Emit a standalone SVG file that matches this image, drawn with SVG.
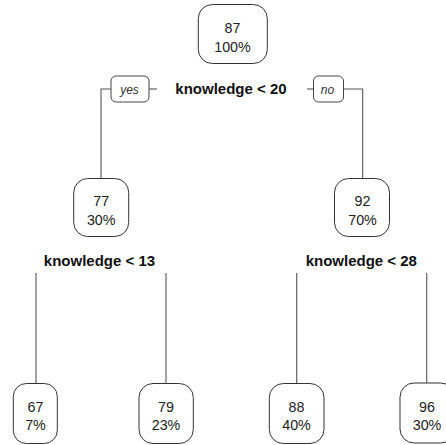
<svg xmlns="http://www.w3.org/2000/svg" width="446" height="445" viewBox="0 0 446 445">
<style>
.bg{fill:#ffffff}
.box{fill:#ffffff;stroke:#333333;stroke-width:1}
.lbl{fill:#ffffff;stroke:#444444;stroke-width:1}
.edge{fill:none;stroke:#555555;stroke-width:1.1}
.val{font-family:"Liberation Sans",Arial,sans-serif;font-size:14.3px;fill:#222222;text-anchor:middle}
.split{font-family:"Liberation Sans",Arial,sans-serif;font-size:15px;font-weight:bold;fill:#111111;text-anchor:middle}
.yn{font-family:"Liberation Sans",Arial,sans-serif;font-size:12px;font-style:italic;fill:#333333;text-anchor:middle}
</style>
<rect class="bg" x="0" y="0" width="446" height="445"/>
<g id="connectors">
<path class="edge" d="M101 178 V89 H111"/>
<path class="edge" d="M149 89 H157"/>
<path class="edge" d="M307 89 H313.5"/>
<path class="edge" d="M343.5 89 H362.7 V178"/>
<path class="edge" d="M36 273 V384"/>
<path class="edge" d="M166 273 V384"/>
<path class="edge" d="M296.7 273 V384"/>
<path class="edge" d="M426.7 273 V383"/>
</g>
<g id="split-root">
<text class="split" x="231" y="94">knowledge &lt; 20</text>
</g>
<g id="label-yes">
<rect class="lbl" x="111" y="76" width="38" height="26" rx="5"/>
<text class="yn" x="129.5" y="93.5">yes</text>
</g>
<g id="label-no">
<rect class="lbl" x="313.5" y="76" width="30" height="26" rx="5"/>
<text class="yn" x="327.5" y="93.5">no</text>
</g>
<g id="node-root">
<rect class="box" x="198.3" y="4.5" width="69" height="59" rx="14"/>
<text class="val" x="232.5" y="32.5">87</text>
<text class="val" x="232.5" y="52">100%</text>
</g>
<g id="node-left">
<rect class="box" x="73.7" y="178.5" width="55" height="58" rx="14"/>
<text class="val" x="101.2" y="205.5">77</text>
<text class="val" x="101.2" y="224.5">30%</text>
</g>
<g id="node-right">
<rect class="box" x="334.5" y="178.5" width="55" height="58" rx="14"/>
<text class="val" x="362.5" y="205.5">92</text>
<text class="val" x="362.5" y="224.5">70%</text>
</g>
<g id="split-left">
<text class="split" x="99.5" y="266">knowledge &lt; 13</text>
</g>
<g id="split-right">
<text class="split" x="361.3" y="266">knowledge &lt; 28</text>
</g>
<g id="leaf-1">
<rect class="box" x="13.3" y="383.5" width="44" height="60" rx="13"/>
<text class="val" x="35.5" y="412">67</text>
<text class="val" x="35.5" y="430">7%</text>
</g>
<g id="leaf-2">
<rect class="box" x="139" y="383.5" width="54.3" height="60" rx="14"/>
<text class="val" x="166" y="412">79</text>
<text class="val" x="166" y="430">23%</text>
</g>
<g id="leaf-3">
<rect class="box" x="269.3" y="383.5" width="54.7" height="60" rx="14"/>
<text class="val" x="296.5" y="412">88</text>
<text class="val" x="296.5" y="430">40%</text>
</g>
<g id="leaf-4">
<rect class="box" x="400" y="383" width="54.7" height="60" rx="14"/>
<text class="val" x="427" y="412">96</text>
<text class="val" x="427" y="430">30%</text>
</g>
</svg>
